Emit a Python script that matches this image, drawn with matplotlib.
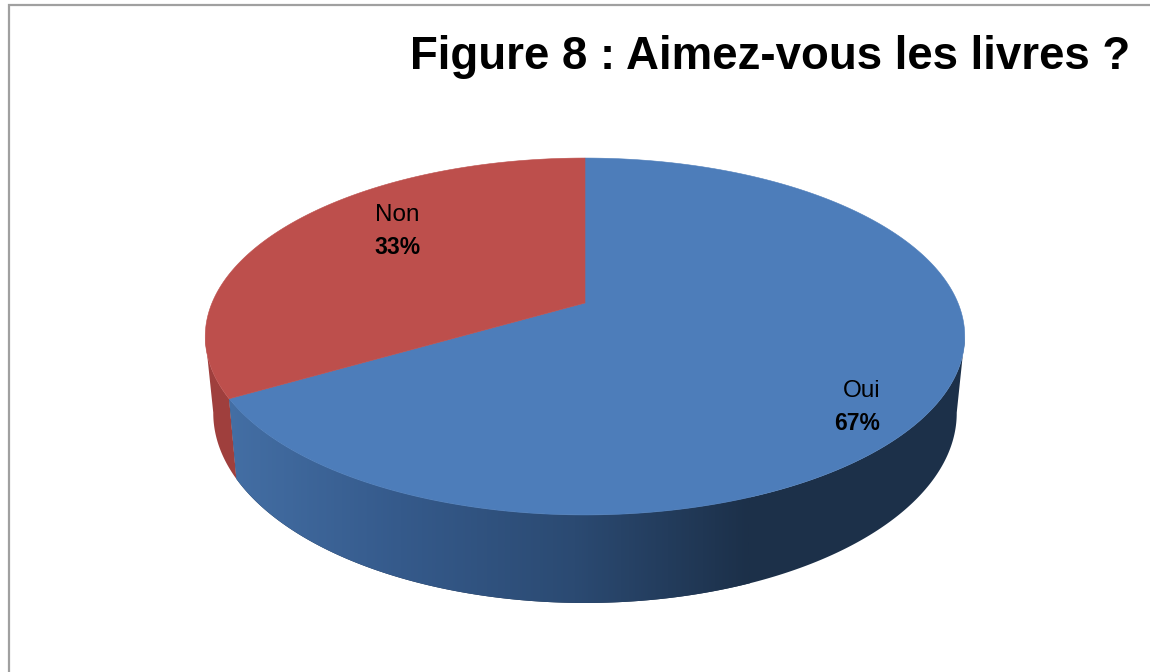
import numpy as np
import matplotlib
matplotlib.use('Agg')
import matplotlib.pyplot as plt
from matplotlib.patches import Polygon
from matplotlib.colors import LinearSegmentedColormap

title = 'Figure 8 : Aimez-vous les livres ?'
categories = ['Oui', 'Non']
shares = [66.6, 33.4]

top_colors = ['#4d7dba', '#bd4f4c']
red_wall = '#9f3f3d'
blue_wall = LinearSegmentedColormap.from_list('wall', ['#446fa5', '#355a8b', '#2b4a72', '#1c3049'])

plt.rcParams['font.family'] = ['Liberation Sans', 'DejaVu Sans']

fig = plt.figure(figsize=(11.5, 6.72), dpi=100)
ax = fig.add_axes([0, 0, 1, 1])
ax.set_xlim(0, 1150)
ax.set_ylim(672, 0)
ax.axis('off')

# chart frame, only left and top show in the picture
ax.plot([8.5, 8.5, 1150], [672, 4.5, 4.5], color='#a0a0a0', lw=1.6, solid_joinstyle='miter')


# circle angle (clockwise from 12 o'clock) to screen position, with perspective
def rim(theta, cx, d, a, b, c):
    w = 1 + c * np.cos(theta)
    return cx + d * np.sin(theta) / w, (a * np.cos(theta) + b) / w


def wall(t0, t1):
    t = np.linspace(t0, t1, 300)
    xt, yt = rim(t, *top_rim)
    xl, yl = rim(t, *low_rim)
    return np.c_[np.r_[xt, xl[::-1]], np.r_[yt, yl[::-1]]]


top_rim = (585, 373, -115.3, 303, 0.1877)
low_rim = (585, 365, -111.7, 377, 0.1895)

edges = 2 * np.pi * np.cumsum([0] + shares) / sum(shares)
tangent = np.arccos(-top_rim[4])

# side wall: darkest colour under a horizontal gradient clipped to the outline
ax.add_patch(Polygon(wall(tangent, edges[1]), closed=True, fc=blue_wall(1.0), ec='none', zorder=0.9))
ax.add_patch(Polygon(wall(edges[1], 2 * np.pi - tangent), closed=True, fc=red_wall, ec='none', zorder=0.9))

clip = Polygon(wall(tangent, edges[1]), closed=True, fc='none', ec='none', transform=ax.transData)
ax.add_patch(clip)
grad = np.linspace(0, 1, 512).reshape(1, -1)
img = ax.imshow(grad, extent=(225, 750, 672, 0), cmap=blue_wall, aspect='auto', zorder=1)
img.set_clip_path(clip)
ax.set_xlim(0, 1150)
ax.set_ylim(672, 0)

# top face
for i in range(len(shares)):
    t = np.linspace(edges[i], edges[i + 1], 300)
    x, y = rim(t, *top_rim)
    apex_x, apex_y = top_rim[0], top_rim[3]
    ax.fill(np.r_[apex_x, x], np.r_[apex_y, y], color=top_colors[i], lw=0.4, zorder=2)

# labels
ax.text(1130, 57, title, ha='right', va='center', fontsize=32.9, fontweight='bold', color='black', zorder=3)
ax.text(880, 391, categories[0], ha='right', va='center', fontsize=17.5, color='black', zorder=3)
ax.text(880, 424, '%.0f%%' % shares[0], ha='right', va='center', fontsize=16.5, fontweight='bold', color='black', zorder=3)
ax.text(397.5, 215, categories[1], ha='center', va='center', fontsize=17.5, color='black', zorder=3)
ax.text(397.5, 247, '%.0f%%' % shares[1], ha='center', va='center', fontsize=16.5, fontweight='bold', color='black', zorder=3)

plt.savefig('out.png', dpi=100)
